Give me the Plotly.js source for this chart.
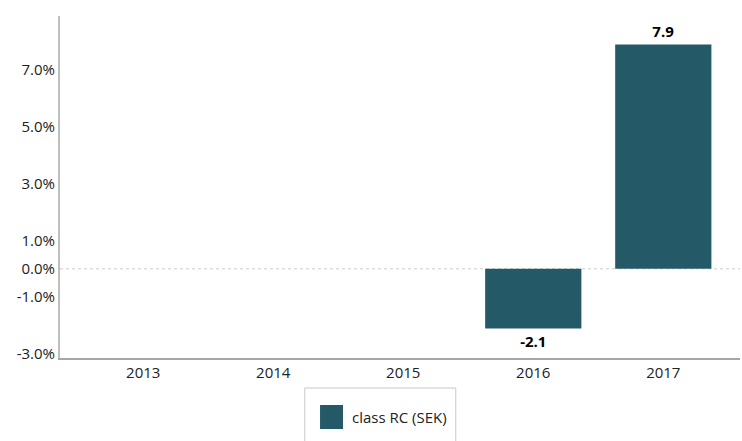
<!DOCTYPE html>
<html>
<head>
<meta charset="utf-8">
<script src="https://cdn.plot.ly/plotly-3.0.1.min.js"></script>
<style>html,body{margin:0;padding:0;background:#fff;}#chart{width:742px;height:441px;}</style>
</head>
<body>
<div id="chart"></div>
<script>
const years = ['2013', '2014', '2015', '2016', '2017'];
const classRC = [null, null, null, -2.1, 7.9];
const yTickVals = [-3, -1, 0, 1, 3, 5, 7];
const yTickText = ['-3.0%', '-1.0%', '0.0%', '1.0%', '3.0%', '5.0%', '7.0%'];
const seriesName = 'class RC (SEK)';
const barColor = '#245a67';

const trace = {
  type: 'bar',
  x: years,
  y: classRC,
  name: seriesName,
  marker: {color: barColor},
  width: 0.74,
  text: classRC.map(v => v === null ? '' : v.toFixed(1)),
  textposition: 'outside',
  textfont: {family: 'Open Sans, sans-serif', size: 15, color: '#000', weight: 'bold'},
  cliponaxis: false,
  showlegend: false,
  hoverinfo: 'skip'
};

const layout = {
  width: 742, height: 441,
  margin: {l: 60, r: 2, t: 16, b: 83},
  paper_bgcolor: '#fff', plot_bgcolor: '#fff',
  font: {family: 'Open Sans, sans-serif', size: 15, color: '#222'},
  xaxis: {
    type: 'category', range: [-0.64, 4.59], showgrid: false, zeroline: false,
    showline: true, linecolor: '#a6a6a6', linewidth: 1.5, ticks: '',
    tickfont: {size: 15, color: '#222'}
  },
  yaxis: {
    range: [-3.14, 8.9], showgrid: false, zeroline: false,
    showline: true, linecolor: '#bfbfbf', linewidth: 2, ticks: '',
    tickvals: yTickVals, ticktext: yTickText,
    tickfont: {size: 15, color: '#222'}
  },
  shapes: [
    {type: 'line', xref: 'paper', yref: 'y', x0: 0, x1: 1, y0: 0, y1: 0,
     line: {color: '#cccccc', width: 1, dash: 'dot'}, layer: 'below'},
    {type: 'path', xref: 'paper', yref: 'paper',
     path: 'M 0.36 -0.3 L 0.36 -0.0877 L 0.582 -0.0877 L 0.582 -0.3',
     line: {color: '#c8c8c8', width: 1}},
    {type: 'rect', xref: 'paper', yref: 'paper',
     x0: 0.3824, x1: 0.4162, y0: -0.1374, y1: -0.2076,
     fillcolor: barColor, line: {width: 0}}
  ],
  annotations: [
    {xref: 'paper', yref: 'paper', x: 0.4265, y: -0.1725, xanchor: 'left', yanchor: 'middle',
     text: seriesName, showarrow: false, font: {size: 15, color: '#222'}}
  ]
};

Plotly.newPlot('chart', [trace], layout, {displayModeBar: false, staticPlot: true});
</script>
</body>
</html>
